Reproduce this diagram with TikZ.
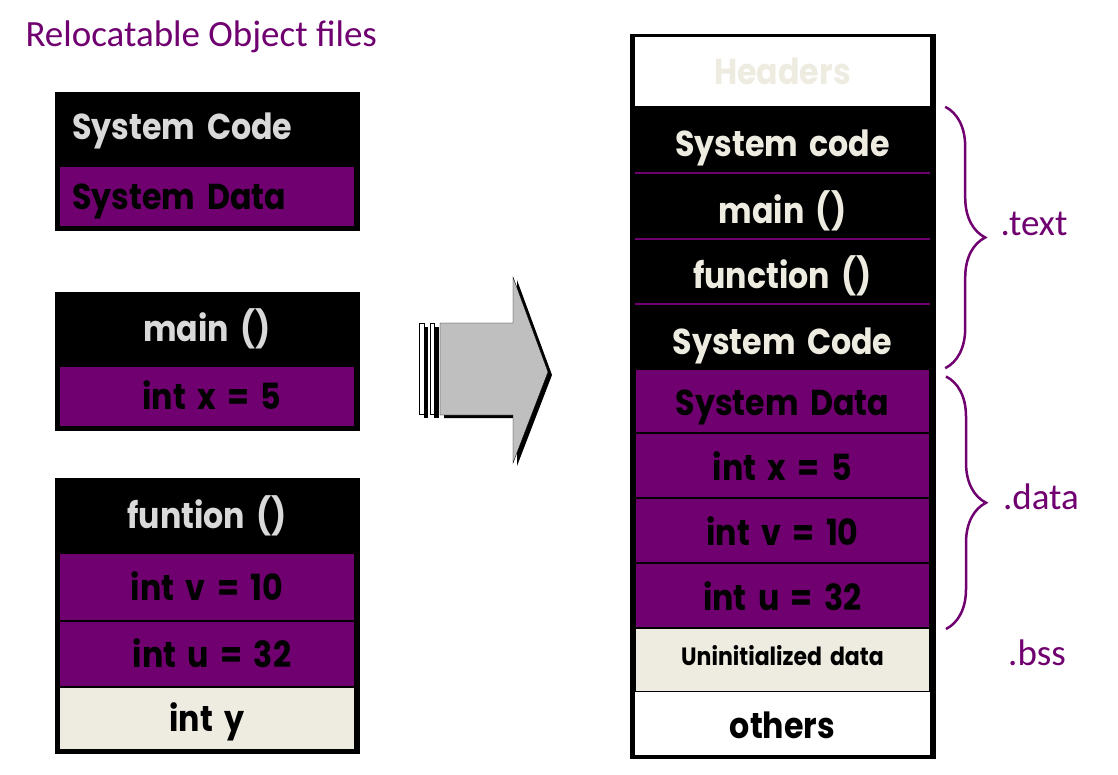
\documentclass[tikz,border=0pt]{standalone}
\usepackage{fontspec}
\newfontfamily\boxfont{Poppins}[WordSpace=1.7, FakeStretch=0.88]
\newfontfamily\labelfont{Carlito}
\usetikzlibrary{decorations.pathreplacing}
\definecolor{segpurple}{RGB}{112,0,112}
\definecolor{cream}{RGB}{238,236,225}
\definecolor{lgray}{RGB}{217,217,217}
\definecolor{arrowgray}{RGB}{191,191,191}

\begin{document}
\begin{tikzpicture}[x=1pt,y=-1pt,
        cell/.style={rectangle, inner sep=0pt, text height=26pt, text depth=0pt,
                        font=\boxfont\bfseries\fontsize{36}{36}\selectfont},
        codecell/.style={cell, fill=black, text=lgray},
        datacell/.style={cell, fill=segpurple, draw=black, line width=2pt, text=black},
        bsscell/.style={cell, fill=cream, draw=black, line width=1.5pt, text=black},
        seg/.style={font=\labelfont\fontsize{37}{37}\selectfont, text=segpurple},
        brace/.style={decorate, decoration={brace, amplitude=40pt, aspect=0.5},
                        draw=segpurple, line width=2.5pt}]
    \useasboundingbox (0,0) rectangle (1118,775);

    \node[seg, anchor=base west] (title) at (22,47) {Relocatable Object files};

    % object files
    \foreach \y/\h in {92/230, 292/430, 478/753}
        \draw[fill=black] (55,\y) rectangle (359,\h);
    \node[codecell, text width=270pt, align=left, inner xsep=17pt, text height=23pt,
        minimum height=73pt] (syscode) at (207,128.5) {System Code};
    \node[datacell, text width=270pt, align=left, inner xsep=13pt,
        minimum height=61pt] (sysdata) at (207,196.5) {System Data};

    \node[codecell, minimum width=304pt, minimum height=73pt] (mainf) at (207,328.5) {main ()};
    \node[datacell, minimum width=296pt, minimum height=61pt] (intx) at (207,396.5) {\hspace{10pt}int x = 5};

    \node[codecell, minimum width=304pt, minimum height=74pt] (funf) at (207,515) {funtion ()};
    \node[datacell, minimum width=296pt, minimum height=68pt] (intv) at (207,587) {int v = 10};
    \node[datacell, minimum width=296pt, minimum height=66pt] (intu) at (207,654) {\hspace{10pt}int u = 32};
    \node[bsscell, minimum width=296pt, minimum height=62pt] (inty) at (207,718.5) {int y};

    % arrow
    \foreach \x in {419.5,430} {
        \fill[black] (\x+4,327) rectangle (\x+8.5,418);
        \draw[fill=white] (\x,323) rectangle (\x+4.5,414);
    }
    \fill[black] (444,326) -- (517,326) -- (517,280) -- (552,375) -- (517,466)
        -- (517,418) -- (444,418) -- cycle;
    \draw[fill=arrowgray] (440,323) -- (513,323) -- (513,277) -- (548,372) -- (513,463)
        -- (513,415) -- (440,415) -- cycle;

    % executable
    \draw[fill=black] (630,34) rectangle (935,758);
    \node[cell, fill=white, text=cream, minimum width=295pt, minimum height=69pt,
        text height=27pt] (hdr) at (782.5,71.5) {Headers};
    \foreach \n/\y/\h/\t in {c1/139.5/67/System code, c2/206/66/main (),
                             c3/271.5/65/function (), c4/336.5/65/System Code}
        \node[codecell, text=cream, minimum width=295pt, minimum height=\h pt,
            text height=35pt] (\n) at (782.5,\y) {\t};
    \foreach \a in {c1,c2,c3}
        \draw[segpurple, line width=1.5pt] (\a.south west) -- (\a.south east);
    \foreach \n/\y/\t in {d1/401/System Data, d2/465.5/int x = 5,
                          d3/530.5/int v = 10, d4/595.5/int u = 32}
        \node[datacell, minimum width=295pt, minimum height=65pt, text height=29pt]
            (\n) at (782.5,\y) {\t};
    \node[bsscell, minimum width=295pt, minimum height=64pt, text height=10pt,
        font=\boxfont\bfseries\fontsize{25}{25}\selectfont] (bss) at (782.5,660) {Uninitialized data};
    \node[cell, fill=white, text=black, minimum width=295pt, minimum height=63pt,
        text height=29pt] (oth) at (782.5,723.5) {others};

    % sections
    \draw[brace] ([xshift=15pt,yshift=-1pt]c1.north east) -- ([xshift=15pt,yshift=1pt]c4.south east);
    \draw[brace] ([xshift=15pt,yshift=-9pt]d1.north east) -- ([xshift=15pt]d4.south east);
    \node[seg] (ltext) at (1034,224) {.text};
    \node[seg] (ldata) at (1041,497) {.data};
    \node[seg] (lbss) at (1037,653) {.bss};
\end{tikzpicture}
\end{document}
